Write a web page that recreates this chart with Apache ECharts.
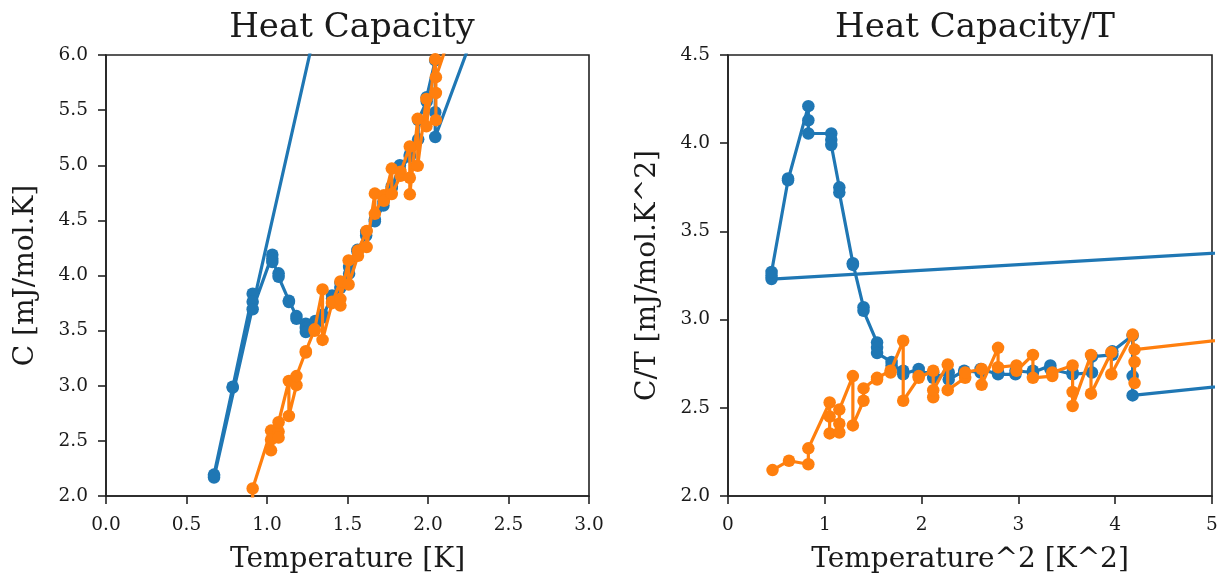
<!DOCTYPE html>
<html>
<head>
<meta charset="utf-8">
<script src="https://cdn.jsdelivr.net/npm/echarts@6/dist/echarts.min.js"></script>
<style>
    html, body { margin: 0; padding: 0; background: #fff; }
    #container { width: 1225px; height: 581px; }
</style>
</head>
<body>
<div id="container"></div>
<script>
// 左图: C vs T  (第一个和最后一个点在图外, 只是为了让线连出去)
var blueT = [9.7, 0.671, 0.671, 0.671, 0.787, 0.787, 0.911, 0.911, 0.911, 1.033, 1.033, 1.033,
    1.072, 1.072, 1.136, 1.136, 1.183, 1.183, 1.241, 1.241, 1.241, 1.300, 1.300, 1.345, 1.345,
    1.404, 1.404, 1.456, 1.456, 1.510, 1.510, 1.562, 1.562, 1.616, 1.616, 1.670, 1.670,
    1.723, 1.723, 1.775, 1.775, 1.825, 1.825, 1.887, 1.887, 1.939, 1.939, 1.992, 1.992,
    2.045, 2.045, 2.045, 4.0]
var blueC = [60.5, 2.167, 2.181, 2.194, 2.983, 2.991, 3.835, 3.762, 3.694, 4.189, 4.153, 4.122,
    4.02, 3.988, 3.772, 3.760, 3.632, 3.608, 3.562, 3.524, 3.487, 3.588, 3.562, 3.645, 3.618,
    3.819, 3.791, 3.931, 3.888, 4.077, 4.017, 4.233, 4.217, 4.363, 4.396, 4.492, 4.509,
    4.635, 4.669, 4.793, 4.810, 5.001, 4.964, 5.076, 5.095, 5.235, 5.410, 5.578, 5.617,
    5.951, 5.481, 5.256, 12.96]
var orangeT = [0.678, 0.794, 0.911, 0.911, 1.025, 1.025, 1.025, 1.072, 1.072, 1.072, 1.136, 1.136,
    1.183, 1.183, 1.241, 1.241, 1.296, 1.296, 1.345, 1.345, 1.404, 1.404, 1.456, 1.456, 1.456,
    1.507, 1.507, 1.565, 1.565, 1.619, 1.619, 1.670, 1.670, 1.726, 1.726, 1.775, 1.775,
    1.830, 1.830, 1.887, 1.887, 1.887, 1.936, 1.936, 1.990, 1.990, 2.045, 2.049, 2.049, 2.049, 4.0]
var orangeC = [1.456, 1.746, 1.986, 2.068, 2.593, 2.414, 2.511, 2.584, 2.530, 2.669, 3.044, 2.726,
    3.005, 3.088, 3.313, 3.301, 3.512, 3.499, 3.874, 3.416, 3.749, 3.763, 3.946, 3.727, 3.786,
    4.137, 3.918, 4.179, 4.226, 4.404, 4.258, 4.743, 4.559, 4.729, 4.677, 4.970, 4.739,
    4.905, 4.941, 5.170, 4.887, 4.736, 5.421, 4.995, 5.602, 5.353, 5.961, 5.655, 5.409, 5.799, 14.2]

// 右图: C/T vs T^2
var blueT2 = [94.1, 0.45, 0.45, 0.45, 0.62, 0.62, 0.83, 0.83, 0.83, 1.067, 1.067, 1.067,
    1.15, 1.15, 1.29, 1.29, 1.40, 1.40, 1.54, 1.54, 1.54, 1.69, 1.69, 1.81, 1.81,
    1.97, 1.97, 2.12, 2.12, 2.28, 2.28, 2.44, 2.44, 2.61, 2.61, 2.79, 2.79,
    2.97, 2.97, 3.15, 3.15, 3.33, 3.33, 3.56, 3.56, 3.76, 3.76, 3.97, 3.97,
    4.18, 4.18, 4.18, 16]
var blueCT = [6.24, 3.23, 3.25, 3.27, 3.79, 3.80, 4.21, 4.13, 4.055, 4.055, 4.02, 3.99,
    3.75, 3.72, 3.32, 3.31, 3.07, 3.05, 2.87, 2.84, 2.81, 2.76, 2.74, 2.71, 2.69,
    2.72, 2.70, 2.70, 2.67, 2.70, 2.66, 2.71, 2.70, 2.70, 2.72, 2.69, 2.70,
    2.69, 2.71, 2.70, 2.71, 2.74, 2.72, 2.69, 2.70, 2.70, 2.79, 2.80, 2.82,
    2.91, 2.68, 2.57, 3.24]
var orangeT2 = [0.46, 0.63, 0.83, 0.83, 1.05, 1.05, 1.05, 1.15, 1.15, 1.15, 1.29, 1.29,
    1.40, 1.40, 1.54, 1.54, 1.68, 1.68, 1.81, 1.81, 1.97, 1.97, 2.12, 2.12, 2.12,
    2.27, 2.27, 2.45, 2.45, 2.62, 2.62, 2.79, 2.79, 2.98, 2.98, 3.15, 3.15,
    3.35, 3.35, 3.56, 3.56, 3.56, 3.75, 3.75, 3.96, 3.96, 4.18, 4.20, 4.20, 4.20, 16]
var orangeCT = [2.147, 2.20, 2.18, 2.27, 2.53, 2.355, 2.45, 2.41, 2.36, 2.49, 2.68, 2.40,
    2.54, 2.61, 2.67, 2.66, 2.71, 2.70, 2.88, 2.54, 2.67, 2.68, 2.71, 2.56, 2.60,
    2.745, 2.60, 2.67, 2.70, 2.72, 2.63, 2.84, 2.73, 2.74, 2.71, 2.80, 2.67,
    2.68, 2.70, 2.74, 2.59, 2.51, 2.80, 2.58, 2.815, 2.69, 2.915, 2.76, 2.64, 2.83, 3.55]

var zip = function (xs, ys) {
    var res = []
    for (var i = 0; i < xs.length; i++) {
        res.push([xs[i], ys[i]])
    }
    return res
}

var FONT = 'DejaVu Serif'
var TEXT = '#1a1a1a'
var AXIS = '#222'

var makeAxis = function (opt) {
    var a = {
        type: 'value',
        gridIndex: opt.grid,
        min: opt.min,
        max: opt.max,
        interval: opt.interval,
        name: opt.name,
        nameLocation: 'middle',
        nameGap: opt.nameGap,
        nameTextStyle: { fontFamily: FONT, fontSize: 28, color: TEXT },
        axisLine: { show: true, onZero: false, lineStyle: { color: AXIS, width: 1.6 } },
        axisTick: { show: true, length: 8, lineStyle: { color: AXIS, width: 1.6 } },
        axisLabel: {
            fontFamily: FONT, fontSize: 18.5, color: TEXT, margin: opt.margin,
            formatter: function (v) { return v.toFixed(opt.digits) },
        },
        splitLine: { show: false },
    }
    return a
}

var makeSeries = function (data, color, xi, yi) {
    return {
        type: 'line',
        data: data,
        xAxisIndex: xi,
        yAxisIndex: yi,
        clip: true,
        symbol: 'circle',
        symbolSize: 12.5,
        showSymbol: true,
        lineStyle: { color: color, width: 3.2 },
        itemStyle: { color: color, borderWidth: 0 },
        emphasis: { disabled: true },
        z: color == '#ff7f0e' ? 3 : 2,
    }
}

const chartMain = function () {
    var dom = document.getElementById('container')
    var myChart = echarts.init(dom, null, { renderer: 'canvas' })

    var option = {
        animation: false,
        backgroundColor: '#fff',
        title: [
            {
                text: 'Heat Capacity', left: 347, top: 6, textAlign: 'center',
                textStyle: { fontFamily: FONT, fontSize: 34, fontWeight: 'normal', color: TEXT },
            },
            {
                text: 'Heat Capacity/T', left: 970, top: 6, textAlign: 'center',
                textStyle: { fontFamily: FONT, fontSize: 34, fontWeight: 'normal', color: TEXT },
            },
        ],
        grid: [
            { left: 106, top: 55, width: 483, height: 441, show: true, borderColor: AXIS, borderWidth: 1.6, backgroundColor: 'transparent' },
            { left: 728, top: 55, width: 484, height: 441, show: true, borderColor: AXIS, borderWidth: 1.6, backgroundColor: 'transparent' },
        ],
        xAxis: [
            makeAxis({ grid: 0, min: 0, max: 3, interval: 0.5, name: 'Temperature [K]', nameGap: 50, margin: 20, digits: 1 }),
            makeAxis({ grid: 1, min: 0, max: 5, interval: 1, name: 'Temperature^2 [K^2]', nameGap: 50, margin: 20, digits: 0 }),
        ],
        yAxis: [
            makeAxis({ grid: 0, min: 2, max: 6, interval: 0.5, name: 'C [mJ/mol.K]', nameGap: 66, margin: 18, digits: 1 }),
            makeAxis({ grid: 1, min: 2, max: 4.5, interval: 0.5, name: 'C/T [mJ/mol.K^2]', nameGap: 66, margin: 18, digits: 1 }),
        ],
        series: [
            makeSeries(zip(blueT, blueC), '#1f77b4', 0, 0),
            makeSeries(zip(orangeT, orangeC), '#ff7f0e', 0, 0),
            makeSeries(zip(blueT2, blueCT), '#1f77b4', 1, 1),
            makeSeries(zip(orangeT2, orangeCT), '#ff7f0e', 1, 1),
        ],
    }
    myChart.setOption(option, true)
}

chartMain()
</script>
</body>
</html>
